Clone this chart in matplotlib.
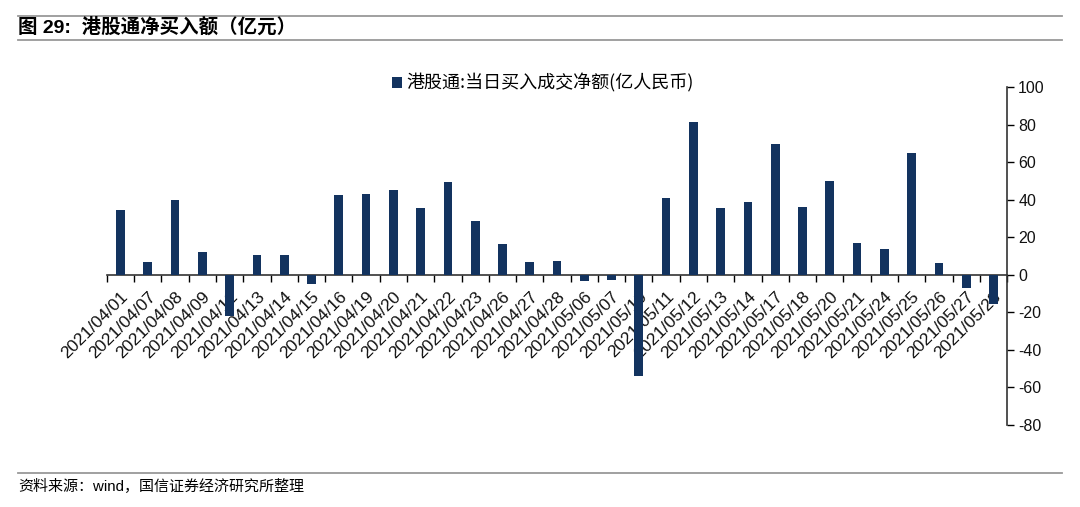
import numpy as np
import matplotlib
matplotlib.use("Agg")
from matplotlib import pyplot as plt
from matplotlib.lines import Line2D

plt.rcParams['font.family'] = ['Liberation Sans', 'Noto Sans CJK SC', 'DejaVu Sans']
plt.rcParams['axes.unicode_minus'] = False

# 日期与当日买入成交净额（亿人民币）
dates = ["2021/04/01", "2021/04/07", "2021/04/08", "2021/04/09", "2021/04/12",
         "2021/04/13", "2021/04/14", "2021/04/15", "2021/04/16", "2021/04/19",
         "2021/04/20", "2021/04/21", "2021/04/22", "2021/04/23", "2021/04/26",
         "2021/04/27", "2021/04/28", "2021/05/06", "2021/05/07", "2021/05/10",
         "2021/05/11", "2021/05/12", "2021/05/13", "2021/05/14", "2021/05/17",
         "2021/05/18", "2021/05/20", "2021/05/21", "2021/05/24", "2021/05/25",
         "2021/05/26", "2021/05/27", "2021/05/28"]
net_buy = [34.3, 6.9, 40.0, 12.3, -21.7,
           10.3, 10.8, -4.8, 42.3, 43.0,
           45.3, 35.4, 49.4, 28.6, 16.5,
           6.7, 7.1, -3.4, -3.0, -53.8,
           40.7, 81.2, 35.6, 38.9, 69.9,
           36.1, 49.9, 16.8, 13.6, 65.0,
           6.5, -6.9, -15.4]
y_ticks = [-80, -60, -40, -20, 0, 20, 40, 60, 80, 100]

TITLE = "图 29:  港股通净买入额（亿元）"
LEGEND = "港股通:当日买入成交净额(亿人民币)"
SOURCE = "资料来源：wind，国信证券经济研究所整理"
BAR_COLOR = "#13335f"

fig = plt.figure(figsize=(10.8, 5.07), dpi=100)
ax = fig.add_axes([0.099, 0.1617, 0.8335, 0.6667])

x = np.arange(len(dates))
# 柱子盖在日期标签上面，和原图一致
ax.bar(x, net_buy, width=0.32, color=BAR_COLOR, label=LEGEND, zorder=3)

# spine位置要先设，否则会重置刻度
ax.spines['left'].set_visible(False)
ax.spines['top'].set_visible(False)
ax.spines['bottom'].set_position(('data', 0))
for s in ('bottom', 'right'):
    ax.spines[s].set_color('#333333')
    ax.spines[s].set_linewidth(1.2)

ax.set_xlim(-0.5, len(dates) - 0.5)
ax.set_ylim(-80, 100)
ax.set_yticks(y_ticks)
ax.yaxis.tick_right()
ax.tick_params(axis='y', direction='out', length=5, width=1, labelsize=11.5, pad=3,
               labelcolor='#111111')

ax.set_xticks(np.arange(len(dates) + 1) - 0.5, minor=True)
ax.tick_params(axis='x', which='minor', direction='out', length=5, width=1)
ax.tick_params(axis='x', which='major', length=0, pad=10, labelsize=12.5,
               labelcolor='#111111')
ax.set_xticks(x)
ax.set_xticklabels(dates, rotation=45, ha='right', rotation_mode='anchor')

ax.legend(loc='center', bbox_to_anchor=(0.503, 0.836), bbox_transform=fig.transFigure,
          frameon=False, handlelength=0.55, handleheight=0.55, handletextpad=0.25,
          prop={'family': ['Noto Sans CJK SC'], 'size': 13})

# 标题、分隔线与来源
fig.text(0.017, 0.946, TITLE, fontsize=14, fontweight='bold', va='center',
         family=['Liberation Sans', 'Noto Sans CJK SC'])
fig.text(0.017, 0.040, SOURCE, fontsize=10.8, va='center',
         family=['Liberation Sans', 'Noto Sans CJK SC'])
for yy in (0.968, 0.921, 0.067):
    fig.add_artist(Line2D([0.017, 0.983], [yy, yy], color='#999999', lw=1.3,
                          transform=fig.transFigure))

fig.savefig("out.png", dpi=100)
